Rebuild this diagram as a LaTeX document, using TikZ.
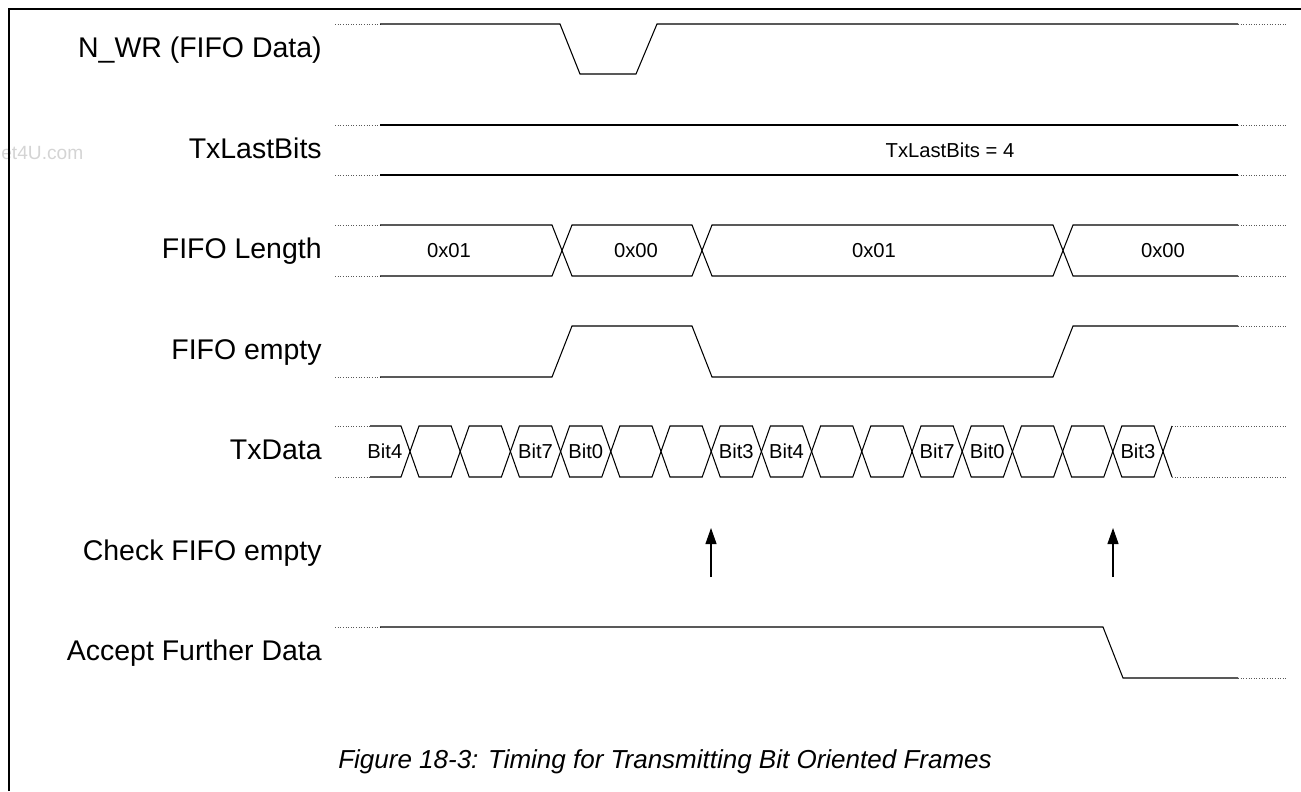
\documentclass[tikz,border=0pt]{standalone}
\usepackage{fontspec}
\setmainfont{Liberation Sans}
\usetikzlibrary{arrows.meta}

\begin{document}
\begin{tikzpicture}[
    x=0.02cm, y=-0.02cm,
    lbl/.style={anchor=base east, inner sep=0pt, font=\fontsize{16.2}{19}\selectfont},
    val/.style={inner sep=0pt, font=\fontsize{11.5}{13}\selectfont},
    wave/.style={line width=0.6pt},
    stub/.style={line width=0.5pt, densely dotted, black!65},
    >={Triangle[length=0.32cm, width=0.22cm]}
  ]
  \useasboundingbox (0,0) rectangle (1301,791);

  % watermark and frame
  \node[anchor=base west, inner sep=0pt, text=black!17,
        font=\fontsize{10.9}{13}\selectfont] (wm) at (1,159) {et4U.com};
  \draw[line width=1.1pt] (9,791) -- (9,9) -- (1301,9);

  % signal names
  \foreach \name/\txt [count=\r from 0] in {nwr/N\_WR (FIFO Data), last/TxLastBits,
      len/FIFO Length, empty/FIFO empty, txd/TxData, chk/Check FIFO empty,
      acc/Accept Further Data} {
    \node[lbl] (\name) at (322, {49.5+100.5*\r+8}) {\txt};
  }

  % N_WR
  \draw[stub] (335,24) -- (380,24) (1238,24) -- (1287,24);
  \draw[wave] (380,24) -- (560,24) -- (580,74) -- (636,74) -- (657,24) -- (1238,24);

  % TxLastBits
  \draw[stub] (335,125) -- (380,125) (335,175) -- (380,175)
              (1238,125) -- (1287,125) (1238,175) -- (1287,175);
  \draw[wave] (380,125) -- (1238,125) (380,175) -- (1238,175);
  \node[val] (lastv) at (950,150) {TxLastBits = 4};

  % FIFO Length
  \draw[stub] (335,225) -- (380,225) (335,276) -- (380,276)
              (1238,225) -- (1287,225) (1238,276) -- (1287,276);
  \draw[wave] (380,225) -- (552,225) -- (572,276) -- (692,276) -- (712,225)
              -- (1053,225) -- (1073,276) -- (1238,276);
  \draw[wave] (380,276) -- (552,276) -- (572,225) -- (692,225) -- (712,276)
              -- (1053,276) -- (1073,225) -- (1238,225);
  \foreach \v/\xx [count=\i] in {0x01/449, 0x00/636, 0x01/874, 0x00/1163} {
    \node[val] (len\i) at (\xx,250.5) {\v};
  }

  % FIFO empty
  \draw[stub] (335,377) -- (380,377) (1238,326) -- (1287,326);
  \draw[wave] (380,377) -- (552,377) -- (572,326) -- (692,326) -- (712,377)
              -- (1053,377) -- (1073,326) -- (1238,326);

  % TxData
  \draw[stub] (335,426) -- (370,426) (335,477) -- (370,477)
              (1172,426) -- (1287,426) (1172,477) -- (1287,477);
  \draw[wave] (370,426) -- (401,426) -- (410,451.5) -- (401,477) -- (370,477);
  \foreach \k in {0,...,14} {
    \pgfmathsetmacro{\ca}{410+50.2*\k}
    \pgfmathsetmacro{\cb}{\ca+50.2}
    \draw[wave] (\ca,451.5) -- (\ca+9,426) -- (\cb-9,426) -- (\cb,451.5)
                -- (\cb-9,477) -- (\ca+9,477) -- cycle;
  }
  \draw[wave] (1163,451.5) -- (1172,426) (1163,451.5) -- (1172,477);
  \foreach \j/\b in {0/Bit4, 3/Bit7, 4/Bit0, 7/Bit3, 8/Bit4, 11/Bit7, 12/Bit0, 15/Bit3} {
    \node[val] (tx\j) at (384.9+50.2*\j,451.5) {\b};
  }

  % Check FIFO empty
  \coordinate (chkA) at (711,577);
  \coordinate (chkAt) at (711,528);
  \coordinate (chkB) at (1113,577);
  \coordinate (chkBt) at (1113,528);
  \draw[wave, ->] (chkA) -- (chkAt);
  \draw[wave, ->] (chkB) -- (chkBt);

  % Accept Further Data
  \draw[stub] (335,627) -- (380,627) (1238,678) -- (1287,678);
  \draw[wave] (380,627) -- (1103,627) -- (1123,678) -- (1238,678);

  \node[anchor=base, inner sep=0pt, font=\fontsize{14.8}{17}\selectfont\itshape]
    (cap) at (665,768) {Figure 18-3: Timing for Transmitting Bit Oriented Frames};
\end{tikzpicture}
\end{document}
